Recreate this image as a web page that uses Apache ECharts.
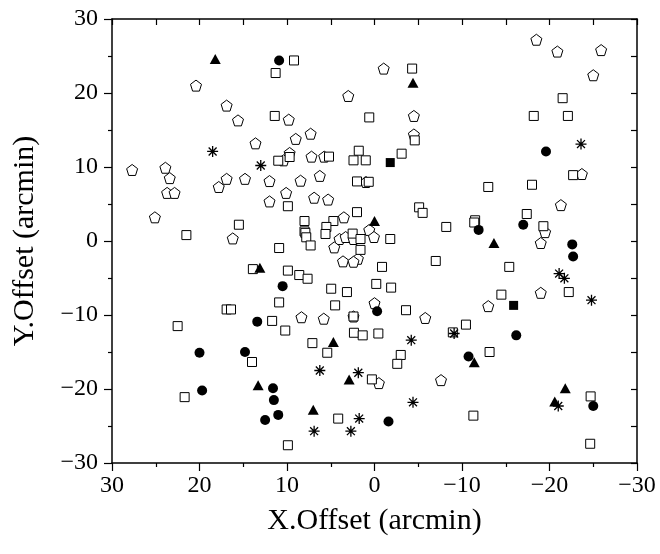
<!DOCTYPE html>
<html>
<head>
<meta charset="utf-8">
<script src="https://cdn.jsdelivr.net/npm/echarts@6/dist/echarts.min.js"></script>
<style>html,body{margin:0;padding:0;background:#fff}#c{width:660px;height:554px}</style>
</head>
<body>
<div id="c"></div>
<script>
// Tick labels
const xTicks = [30, 20, 10, 0, -10, -20, -30];
const yTicks = [-30, -20, -10, 0, 10, 20, 30];

// Open squares [x, y]
const openSquares = [
[11.3,22.7],[9.2,24.4],[-4.3,23.3],[11.4,16.9],[0.6,16.7],[-4.6,13.6],[-3.1,11.8],[2.4,10.9],[1.8,12.2],[1.0,10.9],[5.2,11.4],[9.7,11.35],[11.0,10.85],
[-21.5,19.3],[-18.2,16.9],[-22.1,16.9],
[21.5,0.8],[9.9,4.7],[15.5,2.2],[10.9,-0.95],[13.9,-3.8],[9.9,-4.0],[10.9,-8.3],[16.9,-9.25],[16.4,-9.25],
[2.0,8.05],[0.66,8.0],[-5.1,4.55],[-5.5,3.8],[2.0,3.9],[8.0,2.7],[4.7,2.7],[-8.2,1.9],[5.5,1.9],[8.0,1.3],[7.9,1.1],[7.8,0.5],[5.6,0.95],[2.5,1.0],[-1.8,0.27],[1.6,0.27],[7.3,-0.6],[1.6,-1.2],[-0.86,-3.5],[-7.0,-2.7],[8.6,-4.6],[7.65,-5.1],[4.95,-6.45],[3.15,-6.9],[-0.2,-5.8],[-1.9,-6.3],[4.5,-8.7],[-3.6,-9.35],
[-22.7,8.9],[-13.0,7.3],[-18.0,7.6],[-17.4,3.65],[-11.5,2.8],[-11.4,2.5],[-19.3,2.0],[-15.4,-3.5],[-14.5,-7.25],[-22.2,-6.9],
[11.7,-10.8],[10.2,-12.1],[22.5,-11.5],[14.0,-16.35],[21.7,-21.1],[9.9,-27.6],
[2.4,-10.2],[-10.45,-11.3],[-8.95,-12.35],[7.1,-13.8],[2.35,-12.4],[1.35,-12.75],[-0.44,-12.5],[5.4,-15.1],[-3.0,-15.4],[-2.6,-16.6],[0.3,-18.7],[4.15,-24.0],
[-13.15,-15.0],[-24.7,-21.0],[-11.3,-23.6],[-24.65,-27.4]
];

// Open pentagons [x, y]
const openPentagons = [
[20.4,21.0],[16.9,18.3],[15.6,16.3],[9.8,16.4],[13.6,13.2],[27.7,9.6],[23.9,9.9],[10.4,10.9],[9.7,11.9],
[-1.05,23.3],[3.0,19.6],[-4.5,16.9],[7.3,14.5],[9.0,13.8],[-4.5,14.4],[7.2,11.4],[5.75,11.4],
[-18.5,27.2],[-20.9,25.6],[-25.9,25.8],[-25.0,22.4],
[23.4,8.5],[23.7,6.5],[22.85,6.5],[25.1,3.2],[17.8,7.3],[16.9,8.4],[14.8,8.4],[12.0,8.1],[10.1,6.5],[12.0,5.35],[16.2,0.35],
[8.45,8.15],[6.25,8.8],[0.97,7.97],[6.9,5.85],[5.3,5.6],[3.5,3.2],[0.6,1.5],[0.06,0.54],[4.0,0.27],[3.3,0.54],[2.4,0.27],[4.6,-0.86],[1.9,-2.4],[3.6,-2.75],[2.4,-2.8],[0.0,-8.4],
[-23.7,9.05],[-21.3,4.85],[-19.5,1.2],[-19.0,-0.27],[-19.0,-7.0],[-13.0,-8.8],
[8.35,-10.3],[5.8,-10.5],[2.4,-10.2],[-5.8,-10.4],[-0.5,-19.2],[-7.6,-18.8]
];

// Filled circles [x, y]
const filledCircles = [
[10.9,24.4],[-19.6,12.1],[10.5,-6.1],[-11.9,1.5],[-17.0,2.2],[-22.6,-0.46],[-22.7,-2.1],[13.4,-10.9],[20.0,-15.1],[14.8,-15.0],[19.7,-20.2],[11.6,-19.9],[11.5,-21.5],[11.0,-23.5],[12.5,-24.2],[-0.3,-9.5],[-10.75,-15.6],[-1.6,-24.4],[-16.2,-12.75],[-25.0,-22.3]
];

// Filled triangles [x, y]
const filledTriangles = [
[18.2,24.6],[-4.4,21.4],[13.1,-3.6],[0.0,2.7],[-13.65,-0.27],[13.3,-19.5],[4.7,-13.65],[2.9,-18.7],[7.0,-22.8],[-11.4,-16.4],[-21.8,-19.9],[-20.6,-21.7]
];

// Asterisks [x, y]
const asterisks = [
[18.5,12.1],[13.0,10.2],[-23.6,13.1],[-21.1,-4.4],[-21.7,-5.05],[-24.8,-8.0],[-9.1,-12.5],[-4.2,-13.4],[6.25,-17.5],[1.85,-17.8],[-4.4,-21.8],[1.75,-24.0],[6.9,-25.7],[2.7,-25.7],[-21.0,-22.3]
];

// Filled squares [x, y]
const filledSquares = [
[-1.8,10.6],[-15.9,-8.7]
];

const FONT = '"Liberation Serif", "Times New Roman", serif';
const fmt = v => (v < 0 ? '\u2212' + Math.abs(v) : String(v));
const pentagonPath = 'path://M0,-1L0.951,-0.309L0.588,0.809L-0.588,0.809L-0.951,-0.309Z';
const asteriskPath = 'path://M0,-1L0,1M-1,0L1,0M-0.72,-0.72L0.72,0.72M-0.72,0.72L0.72,-0.72';

const chart = echarts.init(document.getElementById('c'), null, {renderer: 'canvas'});
const axisLine = {show: true, onZero: false, lineStyle: {color: '#000', width: 1.5}};
chart.setOption({
  animation: false,
  backgroundColor: '#fff',
  grid: {left: 112, right: 23, top: 19, bottom: 91},
  xAxis: [{
    type: 'value', min: -30, max: 30, interval: 10, inverse: true, position: 'bottom',
    axisLine: axisLine,
    axisTick: {show: true, inside: false, length: 8, lineStyle: {color: '#000', width: 1.2}},
    minorTick: {show: true, splitNumber: 2, length: 4, lineStyle: {color: '#000', width: 1.2}},
    splitLine: {show: false},
    axisLabel: {color: '#000', fontFamily: FONT, fontSize: 24, margin: 11, formatter: fmt},
    name: 'X.Offset (arcmin)', nameLocation: 'middle', nameGap: 43,
    nameTextStyle: {color: '#000', fontFamily: FONT, fontSize: 30}
  }, {
    type: 'value', min: -30, max: 30, interval: 5, inverse: true, position: 'top',
    axisLine: axisLine,
    axisTick: {show: true, inside: true, length: 6, lineStyle: {color: '#000', width: 1.2}},
    axisLabel: {show: false}, splitLine: {show: false}
  }],
  yAxis: [{
    type: 'value', min: -30, max: 30, interval: 10, position: 'left',
    axisLine: axisLine,
    axisTick: {show: true, inside: false, length: 8, lineStyle: {color: '#000', width: 1.2}},
    minorTick: {show: true, splitNumber: 2, length: 4, lineStyle: {color: '#000', width: 1.2}},
    splitLine: {show: false},
    axisLabel: {color: '#000', fontFamily: FONT, fontSize: 24, margin: 14, formatter: fmt},
    name: 'Y.Offset (arcmin)', nameLocation: 'middle', nameGap: 72, nameRotate: 90,
    nameTextStyle: {color: '#000', fontFamily: FONT, fontSize: 30}
  }, {
    type: 'value', min: -30, max: 30, interval: 5, position: 'right',
    axisLine: axisLine,
    axisTick: {show: true, inside: true, length: 6, lineStyle: {color: '#000', width: 1.2}},
    axisLabel: {show: false}, splitLine: {show: false}
  }],
  series: [
    {type: 'scatter', data: openPentagons, symbol: pentagonPath, symbolSize: 11,
     itemStyle: {color: '#fff', borderColor: '#000', borderWidth: 1, opacity: 1}},
    {type: 'scatter', data: openSquares, symbol: 'rect', symbolSize: 9,
     itemStyle: {color: '#fff', borderColor: '#000', borderWidth: 1, opacity: 1}},
    {type: 'scatter', data: filledCircles, symbol: 'circle', symbolSize: 10,
     itemStyle: {color: '#000', opacity: 1}},
    {type: 'scatter', data: filledTriangles, symbol: 'triangle', symbolSize: [11, 10],
     itemStyle: {color: '#000', opacity: 1}},
    {type: 'scatter', data: asterisks, symbol: asteriskPath, symbolSize: 11,
     itemStyle: {color: 'rgba(0,0,0,0)', borderColor: '#000', borderWidth: 1.3, opacity: 1}},
    {type: 'scatter', data: filledSquares, symbol: 'rect', symbolSize: 9,
     itemStyle: {color: '#000', opacity: 1}}
  ]
});
</script>
</body>
</html>
